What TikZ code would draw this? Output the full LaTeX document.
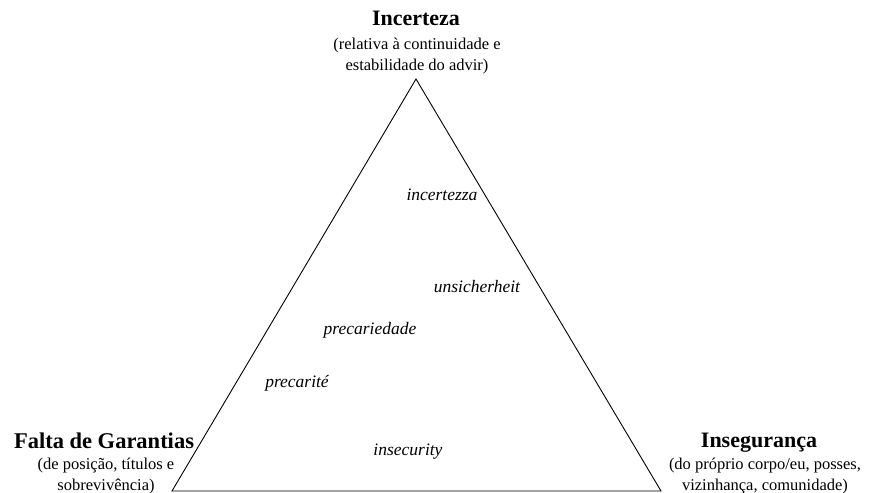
\documentclass[tikz,border=0pt]{standalone}
\usepackage{fontspec}
\setmainfont{Liberation Serif}
\usetikzlibrary{positioning}

\begin{document}
\begin{tikzpicture}[
        x=1pt, y=-1pt,
        corner/.style={font=\fontsize{22}{24}\selectfont\bfseries, align=center, inner sep=0pt},
        note/.style={font=\fontsize{16.5}{21.5}\selectfont, align=center, inner sep=0pt},
        term/.style={font=\fontsize{17.5}{19}\selectfont\itshape, inner sep=0pt},
        side/.style={line width=0.9pt, line join=miter}
    ]
        \useasboundingbox (0,0) rectangle (871,493);

        % Vertices
        \coordinate (apex) at (416,79);
        \coordinate (left) at (172,491);
        \coordinate (right) at (661,491);

        % Triangle
        \draw[side] (apex) -- (left) -- (right) -- cycle;

        % Top corner
        \node[corner] (incerteza) at (416,18) {Incerteza};
        \node[note] (incertezanote) at (417,56) {(relativa à continuidade e\\estabilidade do advir)};

        % Left corner
        \node[corner, font=\fontsize{22.5}{24}\selectfont\bfseries] (garantias) at (104,441) {Falta de Garantias};
        \node[note] (garantiasnote) at (106,476) {(de posição, títulos e\\sobrevivência)};

        % Right corner
        \node[corner] (inseguranca) at (759,443) {Insegurança};
        \node[note] (insegurancanote) at (765,476) {(do próprio corpo/eu, posses,\\vizinhança, comunidade)};

        % Terms
        \node[term] (incertezza) at (442,195) {incertezza};
        \node[term] (unsicherheit) at (477,287) {unsicherheit};
        \node[term] (precariedade) at (370,330) {precariedade};
        \node[term] (precarite) at (297,383) {precarité};
        \node[term] (insecurity) at (408,452) {insecurity};

    \end{tikzpicture}
\end{document}
